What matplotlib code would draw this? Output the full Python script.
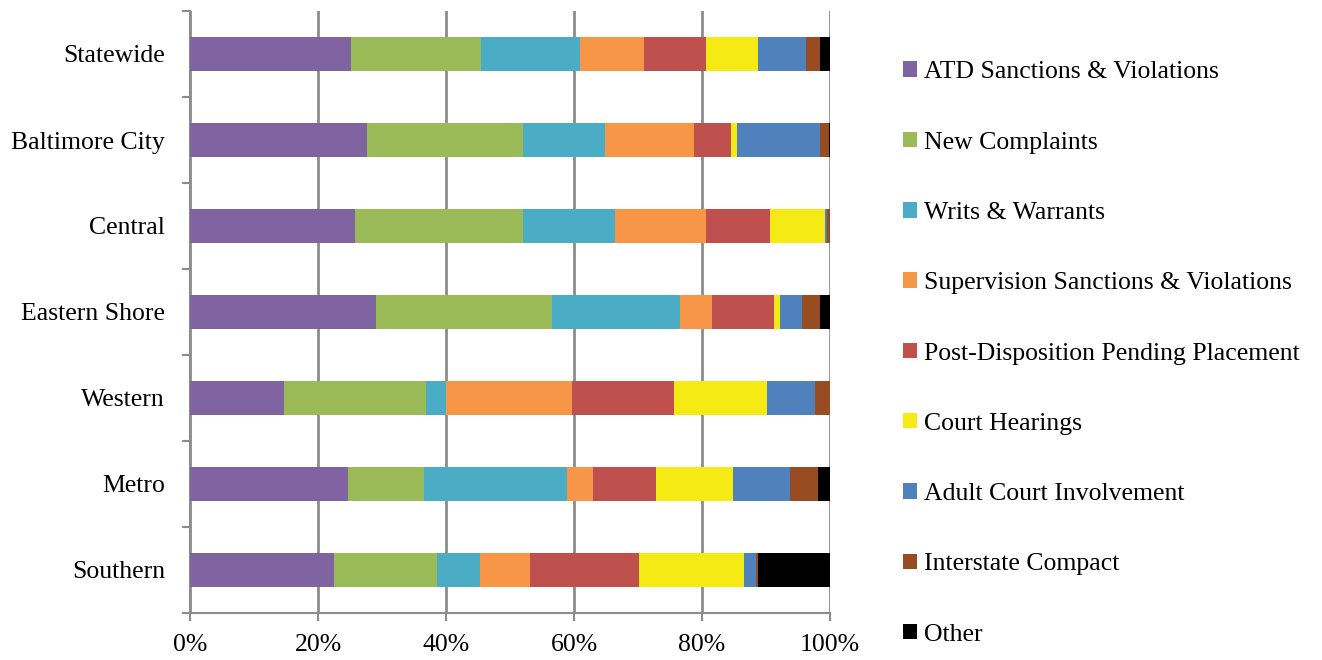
import matplotlib.pyplot as plt
from matplotlib.patches import Patch
import numpy as np

regions = ["Statewide", "Baltimore City", "Central", "Eastern Shore",
           "Western", "Metro", "Southern"]

series = ["ATD Sanctions & Violations", "New Complaints", "Writs & Warrants",
          "Supervision Sanctions & Violations", "Post-Disposition Pending Placement",
          "Court Hearings", "Adult Court Involvement", "Interstate Compact", "Other"]

# percent share per region, same order as regions
atd = [25.2, 27.6, 25.8, 29.1, 14.7, 24.7, 22.5]
new_complaints = [20.3, 24.5, 26.3, 27.4, 22.2, 11.9, 16.1]
writs = [15.5, 12.8, 14.3, 20.0, 3.1, 22.2, 6.6]
supervision = [10.0, 13.9, 14.2, 5.0, 19.7, 4.1, 7.8]
post_disp = [9.7, 5.7, 10.0, 9.7, 16.0, 9.9, 17.1]
court = [8.0, 0.9, 8.6, 1.0, 14.4, 11.9, 16.4]
adult = [7.5, 13.0, 0.3, 3.4, 7.5, 9.0, 1.8]
interstate = [2.2, 1.4, 0.5, 2.8, 2.4, 4.4, 0.3]
other = [1.6, 0.2, 0.0, 1.6, 0.0, 1.8, 11.3]

colors = ["#8064A2", "#9BBB59", "#4BACC6", "#F79646", "#C0504D",
          "#F5EA14", "#4F81BD", "#974D21", "#000000"]

data = np.array([atd, new_complaints, writs, supervision, post_disp,
                 court, adult, interstate, other])
data = data / data.sum(axis=0) * 100

plt.rcParams['font.family'] = ['Liberation Serif', 'DejaVu Serif']

fig = plt.figure(figsize=(13.22, 6.6), dpi=100)
ax = fig.add_axes([190 / 1322, 47 / 660, 640 / 1322, 602 / 660])

y = np.arange(len(regions))[::-1]
left = np.zeros(len(regions))
for vals, c in zip(data, colors):
    ax.barh(y, vals, left=left, height=0.4, color=c, zorder=3)
    left += vals

ax.set_xlim(0, 100)
ax.set_ylim(-0.5, len(regions) - 0.5)
ax.set_xticks(np.arange(0, 101, 20))
ax.set_xticklabels([f"{v}%" for v in range(0, 101, 20)])
ax.set_yticks(y)
ax.set_yticklabels(regions)
ax.set_yticks(np.arange(-0.5, len(regions)), minor=True)

grid_c = "#8c8c8c"
ax.grid(axis="x", color=grid_c, linewidth=2, zorder=0)
for s in ["top", "right"]:
    ax.spines[s].set_visible(False)
for s in ["left", "bottom"]:
    ax.spines[s].set_color(grid_c)
    ax.spines[s].set_linewidth(1.5)

ax.tick_params(axis="y", which="major", length=0, pad=18, labelsize=18.5)
ax.tick_params(axis="y", which="minor", length=6, color=grid_c, width=1.5)
ax.tick_params(axis="x", length=6, color=grid_c, width=1.5, pad=9, labelsize=18.5)

handles = [Patch(facecolor=c, edgecolor="none") for c in colors]
fig.legend(handles, series, loc="upper left", bbox_to_anchor=(893 / 1322, 1 - 51 / 660),
           frameon=False, fontsize=18.5, handlelength=0.55, handleheight=0.55,
           handletextpad=0.25, labelspacing=1.88, borderaxespad=0)

fig.savefig("out.png", dpi=100)
